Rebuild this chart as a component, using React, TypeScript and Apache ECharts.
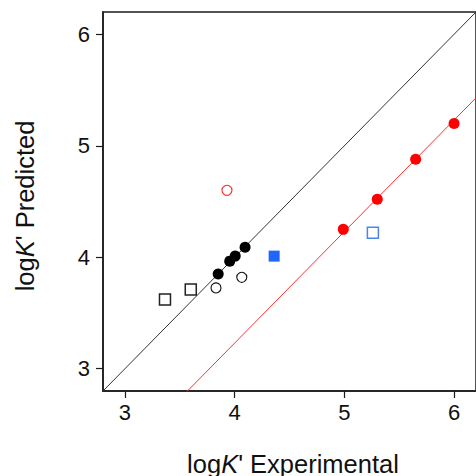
import React, { useEffect, useRef } from "react";
import * as echarts from "echarts";

// Axis range and tick positions (both axes share them)
const axisMin = 2.8;
const axisMax = 6.2;
const tickValues = [3, 4, 5, 6];

// Measured vs. predicted log K' values, grouped by marker style
const blackFilled = [
  [3.85, 3.85],
  [3.955, 3.965],
  [4.005, 4.01],
  [4.095, 4.09],
];
const blackOpenCircle = [
  [3.83, 3.725],
  [4.065, 3.82],
];
const blackOpenSquare = [
  [3.365, 3.62],
  [3.6, 3.71],
];
const redOpenCircle = [[3.93, 4.6]];
const blueFilledSquare = [[4.36, 4.01]];
const blueOpenSquare = [[5.26, 4.22]];
const redFilled = [
  [4.99, 4.25],
  [5.3, 4.52],
  [5.65, 4.88],
  [6.0, 5.2],
];

// Reference lines: identity and the offset fit through the red series
const identitySlope = 1;
const identityIntercept = 0;
const fitSlope = 1;
const fitIntercept = -0.77;

const lineOver = (slope: number, intercept: number) => [
  [axisMin, slope * axisMin + intercept],
  [axisMax, slope * axisMax + intercept],
];

const FONT = "Liberation Sans, Arial, Helvetica, sans-serif";
const TITLE_SIZE = 25.5;

export default function App() {
  const ref = useRef<HTMLDivElement>(null);

  useEffect(() => {
    if (!ref.current) return;
    const chart = echarts.init(ref.current, null, { renderer: "svg" });

    const axisCommon = {
      type: "value" as const,
      min: axisMin,
      max: axisMax,
      splitLine: { show: false },
      axisLine: { show: true, lineStyle: { color: "#1a1a1a", width: 1.5 } },
      axisTick: {
        show: true,
        inside: false,
        length: 7,
        customValues: tickValues,
        lineStyle: { color: "#1a1a1a", width: 1.2 },
      },
    };

    const titleStyle = {
      fontFamily: FONT,
      fontSize: TITLE_SIZE,
      fill: "#111",
      align: "center",
      verticalAlign: "middle",
      rich: {
        i: { fontStyle: "italic", fontFamily: FONT, fontSize: TITLE_SIZE, fill: "#111" },
      },
    };

    chart.setOption({
      animation: false,
      backgroundColor: "#ffffff",
      grid: {
        left: 103,
        top: 12,
        width: 379,
        height: 379,
        show: true,
        borderColor: "#1a1a1a",
        borderWidth: 1.5,
        backgroundColor: "transparent",
      },
      xAxis: {
        ...axisCommon,
        axisLabel: {
          customValues: tickValues,
          fontFamily: FONT,
          fontSize: 22,
          color: "#111",
          margin: 10,
        },
      },
      yAxis: {
        ...axisCommon,
        axisLabel: {
          customValues: tickValues,
          fontFamily: FONT,
          fontSize: 22,
          color: "#111",
          margin: 13,
        },
      },
      graphic: [
        {
          type: "text",
          x: 293,
          y: 464,
          style: { ...titleStyle, text: "log{i|K}' Experimental" },
        },
        {
          type: "text",
          x: 25,
          y: 206,
          rotation: Math.PI / 2,
          style: { ...titleStyle, text: "log{i|K}' Predicted" },
        },
      ],
      series: [
        {
          type: "line",
          data: lineOver(identitySlope, identityIntercept),
          symbol: "none",
          clip: true,
          lineStyle: { color: "#333", width: 1 },
          z: 1,
        },
        {
          type: "line",
          data: lineOver(fitSlope, fitIntercept),
          symbol: "none",
          clip: true,
          lineStyle: { color: "#ff3030", width: 1 },
          z: 1,
        },
        {
          type: "scatter",
          data: blackOpenSquare,
          symbol: "rect",
          symbolSize: 11,
          itemStyle: { color: "#fff", borderColor: "#222", borderWidth: 1.5, opacity: 1 },
          z: 3,
        },
        {
          type: "scatter",
          data: blackOpenCircle,
          symbol: "circle",
          symbolSize: 10,
          itemStyle: { color: "#fff", borderColor: "#111", borderWidth: 1.1, opacity: 1 },
          z: 3,
        },
        {
          type: "scatter",
          data: blackFilled,
          symbol: "circle",
          symbolSize: 11,
          itemStyle: { color: "#000", opacity: 1 },
          z: 4,
        },
        {
          type: "scatter",
          data: redOpenCircle,
          symbol: "circle",
          symbolSize: 10,
          itemStyle: { color: "#fff", borderColor: "#ff2a2a", borderWidth: 1.1, opacity: 1 },
          z: 3,
        },
        {
          type: "scatter",
          data: blueFilledSquare,
          symbol: "rect",
          symbolSize: 11,
          itemStyle: { color: "#1f66ff", opacity: 1 },
          z: 3,
        },
        {
          type: "scatter",
          data: blueOpenSquare,
          symbol: "rect",
          symbolSize: 11,
          itemStyle: { color: "#fff", borderColor: "#4d85f0", borderWidth: 1.5, opacity: 1 },
          z: 3,
        },
        {
          type: "scatter",
          data: redFilled,
          symbol: "circle",
          symbolSize: 11,
          itemStyle: { color: "#ff0000", opacity: 1 },
          z: 4,
        },
      ],
    });

    return () => chart.dispose();
  }, []);

  return (
    <div
      ref={ref}
      style={{ position: "fixed", left: 0, top: 0, width: 476, height: 476, overflow: "hidden" }}
    />
  );
}
